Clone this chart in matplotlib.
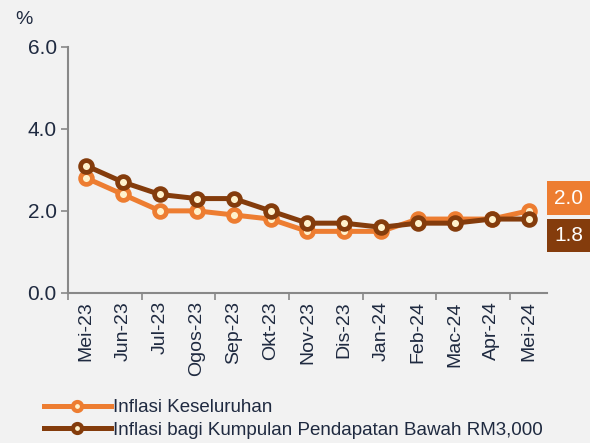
import numpy as np
import matplotlib.pyplot as plt

plt.rcParams['font.family'] = ['Liberation Sans', 'DejaVu Sans']

months = ['Mei-23', 'Jun-23', 'Jul-23', 'Ogos-23', 'Sep-23', 'Okt-23', 'Nov-23',
          'Dis-23', 'Jan-24', 'Feb-24', 'Mac-24', 'Apr-24', 'Mei-24']
overall = [2.8, 2.4, 2.0, 2.0, 1.9, 1.8, 1.5, 1.5, 1.5, 1.8, 1.8, 1.8, 2.0]
low_income = [3.1, 2.7, 2.4, 2.3, 2.3, 2.0, 1.7, 1.7, 1.6, 1.7, 1.7, 1.8, 1.8]

ORANGE = '#ED7D31'
BROWN = '#843C0C'
FACE = '#FFF2CC'
TEXT = '#1F2A40'
BG = '#F2F2F2'

fig = plt.figure(figsize=(5.90, 4.43), dpi=100, facecolor=BG)
ax = fig.add_axes([0.115, 0.339, 0.812, 0.555], facecolor=BG)

x = np.arange(len(months))
ax.plot(x, overall, color=ORANGE, lw=3.6, marker='o', ms=8.5, mfc=FACE, mec=ORANGE,
        mew=3.4, label='Inflasi Keseluruhan', zorder=3)
ax.plot(x, low_income, color=BROWN, lw=3.6, marker='o', ms=8.5, mfc=FACE, mec=BROWN,
        mew=3.4, label='Inflasi bagi Kumpulan Pendapatan Bawah RM3,000', zorder=4)

ax.set_xlim(-0.5, len(months) - 0.5)
ax.set_ylim(0, 6)
ax.set_yticks([0, 2, 4, 6])
ax.set_yticklabels(['0.0', '2.0', '4.0', '6.0'], fontsize=15, color=TEXT)
ax.set_xticks(x)
ax.set_xticklabels(months, rotation=90, fontsize=14, color=TEXT)
ax.tick_params(axis='x', length=0, pad=6)
ax.set_xticks(np.arange(-0.5, len(months), 2), minor=True)
ax.tick_params(axis='x', which='minor', length=5, color='#888888', width=1.2)
ax.tick_params(axis='y', length=5, color='#888888', width=1.2, pad=3)

for s in ['top', 'right']:
    ax.spines[s].set_visible(False)
for s in ['left', 'bottom']:
    ax.spines[s].set_color('#888888')
    ax.spines[s].set_linewidth(1.5)

fig.text(0.025, 0.945, '%', fontsize=14, color=TEXT)

# end-value labels
fig.text(0.964, 0.553, f'{overall[-1]:.1f}', fontsize=15, color='white', ha='center', va='center',
         bbox=dict(boxstyle='square,pad=0.35', fc=ORANGE, ec='none'))
fig.text(0.964, 0.468, f'{low_income[-1]:.1f}', fontsize=15, color='white', ha='center', va='center',
         bbox=dict(boxstyle='square,pad=0.35', fc=BROWN, ec='none'))

leg = fig.legend(loc='lower left', bbox_to_anchor=(0.055, -0.016), frameon=False, fontsize=13.5,
                 handlelength=3.6, handletextpad=0.1, labelspacing=0.28, borderaxespad=0.2)
for t in leg.get_texts():
    t.set_color(TEXT)
for h in leg.legend_handles:
    h.set_markersize(6.5)
    h.set_markeredgewidth(3)

fig.savefig('out.png', dpi=100, facecolor=BG)
